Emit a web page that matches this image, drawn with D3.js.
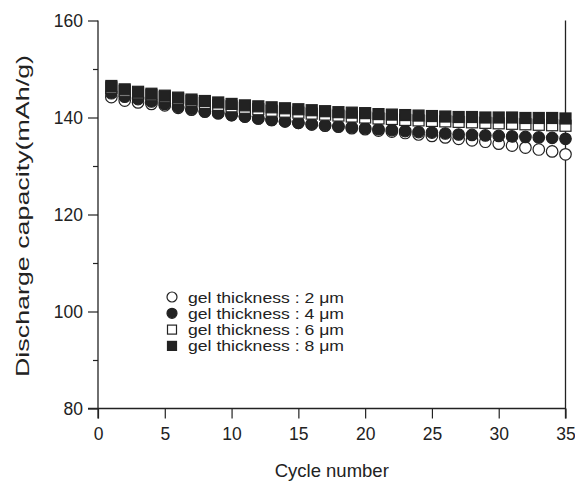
<!DOCTYPE html>
<html><head><meta charset="utf-8">
<script src="https://cdn.jsdelivr.net/npm/d3@7"></script>
<style>body{margin:0;background:#fff}svg{display:block}text{font-family:"Liberation Sans",Arial,sans-serif;fill:#222}</style>
</head><body><svg id="c" width="575" height="482"></svg>
<script>
const cycles = d3.range(1, 36);
const gel2 = [144.2,143.5,143.1,142.8,142.5,142.0,141.6,141.2,140.9,140.5,140.2,139.8,139.5,139.2,138.9,138.6,138.3,138.1,137.8,137.6,137.3,137.1,136.8,136.5,136.2,135.9,135.6,135.3,135.0,134.6,134.2,133.8,133.4,133.0,132.4];
const gel4 = [145.0,144.3,143.8,143.3,142.8,142.2,141.7,141.3,140.9,140.5,140.2,139.8,139.5,139.2,138.9,138.6,138.4,138.2,138.0,137.8,137.6,137.4,137.2,137.0,136.9,136.7,136.5,136.4,136.3,136.2,136.1,136.0,135.9,135.8,135.6];
const gel6 = [146.2,145.5,145.0,144.6,144.2,143.8,143.4,143.0,142.6,142.3,142.0,141.7,141.4,141.2,141.0,140.8,140.6,140.4,140.2,140.0,139.8,139.7,139.5,139.4,139.3,139.2,139.1,139.0,138.9,138.8,138.7,138.6,138.5,138.4,138.3];
const gel8 = [146.5,145.8,145.3,144.9,144.5,144.1,143.7,143.4,143.1,142.8,142.5,142.3,142.1,141.9,141.7,141.5,141.3,141.1,141.0,140.9,140.7,140.6,140.5,140.4,140.3,140.2,140.1,140.1,140.0,140.0,140.0,139.9,139.9,139.9,139.8];
const seriesNames = ["gel thickness : 2 \u03bcm","gel thickness : 4 \u03bcm","gel thickness : 6 \u03bcm","gel thickness : 8 \u03bcm"];
const xTicks = [0,5,10,15,20,25,30,35];
const yTicks = [80,100,120,140,160];
const yMinor = [90,110,130,150];

const series = [
  {name: seriesNames[0], values: gel2, shape: "circle", filled: false},
  {name: seriesNames[1], values: gel4, shape: "circle", filled: true},
  {name: seriesNames[2], values: gel6, shape: "square", filled: false},
  {name: seriesNames[3], values: gel8, shape: "square", filled: true}
];

const svg = d3.select("#c");
const L = 98, R = 565.5, T = 20.5, B = 408.5;
const x = d3.scaleLinear().domain([0,35]).range([L,R]);
const y = d3.scaleLinear().domain([80,160]).range([B,T]);
const ink = "#222";
const FF = "Liberation Sans, Arial, sans-serif";

// y axis
const gy = svg.append("g").attr("transform",`translate(${L},0)`)
  .call(d3.axisLeft(y).tickValues(yTicks).tickSize(10).tickPadding(5).tickFormat(d3.format("d")));
gy.select(".domain").remove();
gy.selectAll("text").attr("font-size",17.5).style("font-family",FF).attr("fill",ink);
gy.selectAll("line").attr("stroke",ink).attr("stroke-width",1.2);
const gym = svg.append("g").attr("transform",`translate(${L},0)`)
  .call(d3.axisLeft(y).tickValues(yMinor).tickSize(5).tickFormat(""));
gym.select(".domain").remove();
gym.selectAll("line").attr("stroke",ink).attr("stroke-width",1.2);

// x axis
const gx = svg.append("g").attr("transform",`translate(0,${B})`)
  .call(d3.axisBottom(x).tickValues(xTicks).tickSize(10).tickPadding(9).tickFormat(d3.format("d")));
gx.select(".domain").remove();
gx.selectAll("text").attr("font-size",17.5).style("font-family",FF).attr("fill",ink);
gx.selectAll("line").attr("stroke",ink).attr("stroke-width",1.2);

// frame lines
svg.append("line").attr("x1",L).attr("x2",L).attr("y1",T).attr("y2",B+10).attr("stroke",ink).attr("stroke-width",1.3);
svg.append("line").attr("x1",R).attr("x2",R).attr("y1",T).attr("y2",B+10).attr("stroke",ink).attr("stroke-width",1.3);
svg.append("line").attr("x1",L-10).attr("x2",R).attr("y1",B).attr("y2",B).attr("stroke",ink).attr("stroke-width",1.3);

// titles
svg.append("text").attr("x",(L+R)/2).attr("y",477).attr("text-anchor","middle").attr("font-size",18.5).text("Cycle number");
svg.append("text").attr("transform",`translate(29,216) rotate(-90)`).attr("text-anchor","middle").attr("font-size",18.5)
  .attr("textLength",322).attr("lengthAdjust","spacingAndGlyphs").text("Discharge capacity(mAh/g)");

function drawMarker(g, s, cx, cy, size){
  if (s.shape === "circle") {
    g.append("circle").attr("cx",cx).attr("cy",cy).attr("r",size/2)
      .attr("fill", s.filled ? ink : "#fff").attr("stroke",ink).attr("stroke-width",1.2);
  } else {
    g.append("rect").attr("x",cx-size/2).attr("y",cy-size/2).attr("width",size).attr("height",size)
      .attr("fill", s.filled ? ink : "#fff").attr("stroke",ink).attr("stroke-width",1.2);
  }
}

const gp = svg.append("g");
series.forEach(s => {
  const g = gp.append("g");
  s.values.forEach((v,i) => drawMarker(g, s, x(cycles[i]), y(v), s.shape==="circle"?11.5:11));
});

// legend
const lg = svg.append("g");
series.forEach((s,i) => {
  const ly = 297 + i*16.3;
  drawMarker(lg, s, 172, ly, s.shape==="circle"?10:9);
  lg.append("text").attr("x",188).attr("y",ly+5.5).attr("font-size",15)
    .attr("textLength",156).attr("lengthAdjust","spacingAndGlyphs").text(s.name);
});
</script></body></html>
